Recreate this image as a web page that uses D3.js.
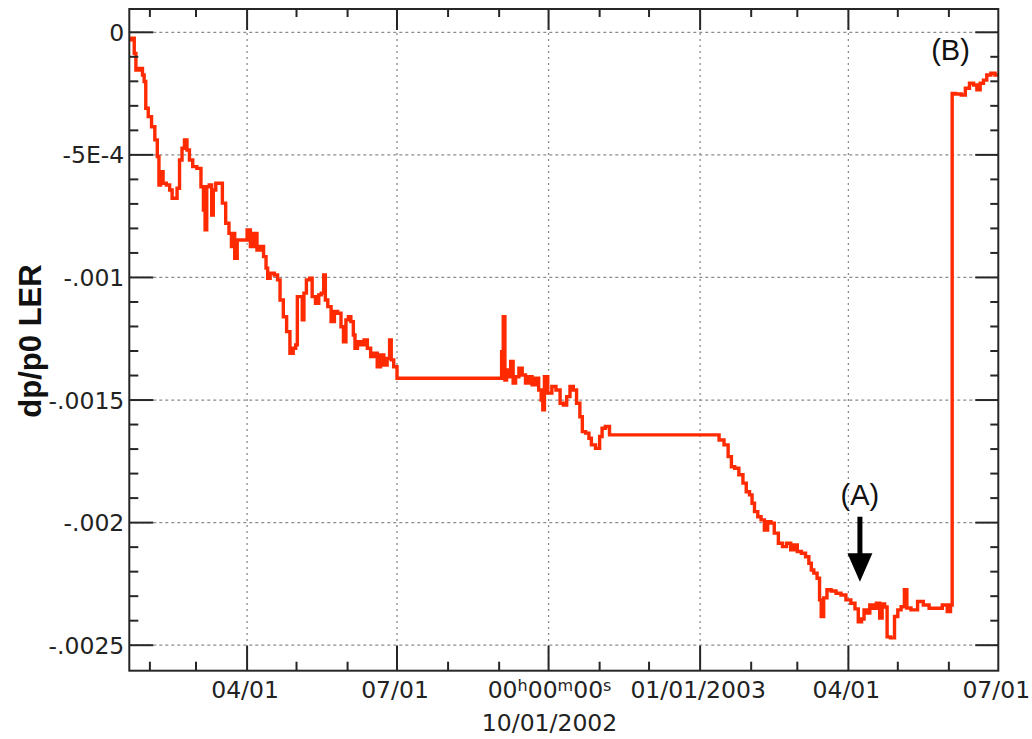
<!DOCTYPE html>
<html><head><meta charset="utf-8">
<script src="https://cdn.jsdelivr.net/npm/d3@7"></script>
<style>body{margin:0;background:#fff;} svg{display:block;}</style>
</head><body><svg id="chart" width="1032" height="739"></svg>
<script>
// ---- data ----
const dates = [
"2002-01-20","2002-01-22","2002-01-23","2002-01-24","2002-01-27","2002-01-28","2002-01-29","2002-01-30",
"2002-02-01","2002-02-03","2002-02-05","2002-02-06","2002-02-07","2002-02-08","2002-02-10","2002-02-12",
"2002-02-14","2002-02-15","2002-02-17","2002-02-18","2002-02-20","2002-02-21","2002-02-23","2002-02-24",
"2002-02-26","2002-02-28","2002-03-03","2002-03-05","2002-03-06","2002-03-07","2002-03-08","2002-03-10",
"2002-03-11","2002-03-12","2002-03-14","2002-03-16","2002-03-18","2002-03-20","2002-03-22","2002-03-23",
"2002-03-24","2002-03-25","2002-03-27","2002-03-31","2002-04-02","2002-04-04","2002-04-06","2002-04-08",
"2002-04-10","2002-04-12","2002-04-13","2002-04-14","2002-04-16","2002-04-19","2002-04-20","2002-04-22",
"2002-04-24","2002-04-26","2002-04-28","2002-04-30","2002-05-01","2002-05-02","2002-05-04","2002-05-05",
"2002-05-06","2002-05-08","2002-05-10","2002-05-11","2002-05-14","2002-05-15","2002-05-17","2002-05-18",
"2002-05-19","2002-05-21","2002-05-23","2002-05-25","2002-05-27","2002-05-29","2002-05-30","2002-06-01",
"2002-06-02","2002-06-04","2002-06-05","2002-06-06","2002-06-08","2002-06-10","2002-06-12","2002-06-14",
"2002-06-16","2002-06-18","2002-06-20","2002-06-22","2002-06-24","2002-06-26","2002-06-27","2002-06-28",
"2002-06-30","2002-07-02","2002-09-02","2002-09-03","2002-09-04","2002-09-05","2002-09-06","2002-09-07",
"2002-09-09","2002-09-10","2002-09-12","2002-09-14","2002-09-16","2002-09-18","2002-09-20","2002-09-22",
"2002-09-24","2002-09-26","2002-09-27","2002-09-28","2002-09-29","2002-10-02","2002-10-04","2002-10-07",
"2002-10-09","2002-10-11","2002-10-13","2002-10-15","2002-10-17","2002-10-19","2002-10-21","2002-10-22",
"2002-10-25","2002-10-26","2002-10-28","2002-10-31","2002-11-02","2002-11-03","2002-11-06","2002-11-08",
"2003-01-11","2003-01-14","2003-01-17","2003-01-19","2003-01-21","2003-01-23","2003-01-26","2003-01-28",
"2003-01-30","2003-02-01","2003-02-02","2003-02-04","2003-02-06","2003-02-08","2003-02-10","2003-02-12",
"2003-02-14","2003-02-16","2003-02-19","2003-02-21","2003-02-24","2003-02-26","2003-02-28","2003-03-02",
"2003-03-05","2003-03-07","2003-03-09","2003-03-10","2003-03-12","2003-03-14","2003-03-15","2003-03-16",
"2003-03-18","2003-03-20","2003-03-23","2003-03-26","2003-03-29","2003-04-01","2003-04-04","2003-04-06",
"2003-04-08","2003-04-10","2003-04-11","2003-04-13","2003-04-15","2003-04-17","2003-04-19","2003-04-21",
"2003-04-22","2003-04-24","2003-04-25","2003-04-28","2003-04-30","2003-05-02","2003-05-04","2003-05-06",
"2003-05-07","2003-05-11","2003-05-15","2003-05-18","2003-05-22","2003-05-26","2003-05-30","2003-06-01",
"2003-06-03","2003-06-03","2003-06-07","2003-06-10","2003-06-12","2003-06-15","2003-06-17","2003-06-19",
"2003-06-21","2003-06-23","2003-06-25","2003-06-28","2003-06-30"
];
const values = [
-0.31e-4,-0.24e-4,-0.86e-4,-1.54e-4,-1.47e-4,-1.74e-4,-2.01e-4,-3.10e-4,
-3.44e-4,-3.85e-4,-4.39e-4,-5.07e-4,-6.23e-4,-5.69e-4,-6.16e-4,-6.23e-4,
-6.43e-4,-6.77e-4,-6.77e-4,-6.36e-4,-5.21e-4,-4.73e-4,-4.39e-4,-4.80e-4,
-5.21e-4,-5.48e-4,-5.55e-4,-6.30e-4,-7.25e-4,-8.06e-4,-6.30e-4,-6.23e-4,
-7.45e-4,-6.43e-4,-6.16e-4,-6.16e-4,-6.97e-4,-7.79e-4,-8.20e-4,-8.74e-4,
-8.20e-4,-9.22e-4,-8.47e-4,-8.47e-4,-8.06e-4,-8.74e-4,-8.20e-4,-8.88e-4,
-8.74e-4,-9.15e-4,-9.62e-4,-10.03e-4,-9.83e-4,-9.90e-4,-10.10e-4,-10.92e-4,
-11.60e-4,-12.21e-4,-13.09e-4,-12.89e-4,-12.75e-4,-10.78e-4,-10.78e-4,-11.73e-4,
-10.64e-4,-10.10e-4,-10.03e-4,-10.78e-4,-11.05e-4,-10.71e-4,-10.64e-4,-9.90e-4,
-10.92e-4,-11.19e-4,-11.80e-4,-11.39e-4,-11.46e-4,-12.01e-4,-12.62e-4,-11.73e-4,
-11.60e-4,-11.80e-4,-12.35e-4,-12.89e-4,-12.62e-4,-12.75e-4,-12.55e-4,-12.89e-4,
-13.23e-4,-13.09e-4,-13.64e-4,-13.16e-4,-13.57e-4,-13.30e-4,-12.55e-4,-13.36e-4,
-13.64e-4,-14.11e-4,-14.11e-4,-13.03e-4,-11.60e-4,-14.18e-4,-13.77e-4,-14.05e-4,
-13.43e-4,-14.31e-4,-14.05e-4,-13.70e-4,-13.98e-4,-14.31e-4,-14.05e-4,-14.38e-4,
-14.11e-4,-14.59e-4,-15.00e-4,-15.40e-4,-14.05e-4,-14.72e-4,-14.45e-4,-14.59e-4,
-15.13e-4,-15.20e-4,-14.86e-4,-14.45e-4,-14.59e-4,-15.13e-4,-15.68e-4,-16.29e-4,
-16.35e-4,-16.56e-4,-16.83e-4,-16.97e-4,-16.49e-4,-16.15e-4,-16.08e-4,-16.42e-4,
-16.42e-4,-16.63e-4,-16.83e-4,-17.31e-4,-17.72e-4,-17.78e-4,-18.05e-4,-18.39e-4,
-18.74e-4,-18.87e-4,-19.21e-4,-19.55e-4,-19.76e-4,-19.89e-4,-20.30e-4,-19.96e-4,
-20.02e-4,-20.43e-4,-20.84e-4,-20.98e-4,-20.84e-4,-21.11e-4,-20.91e-4,-21.18e-4,
-21.25e-4,-21.39e-4,-21.66e-4,-21.93e-4,-22.06e-4,-22.27e-4,-23.15e-4,-23.83e-4,
-23.07e-4,-22.74e-4,-22.79e-4,-22.88e-4,-22.95e-4,-23.15e-4,-23.29e-4,-23.52e-4,
-24.05e-4,-23.93e-4,-23.56e-4,-23.69e-4,-23.36e-4,-23.49e-4,-23.29e-4,-23.89e-4,
-23.32e-4,-23.44e-4,-24.66e-4,-24.70e-4,-23.83e-4,-23.56e-4,-23.43e-4,-22.74e-4,
-23.48e-4,-23.56e-4,-23.22e-4,-23.36e-4,-23.49e-4,-23.49e-4,-23.36e-4,-23.63e-4,
-23.36e-4,-2.49e-4,-2.52e-4,-2.56e-4,-2.28e-4,-2.08e-4,-2.15e-4,-2.35e-4,
-2.08e-4,-1.95e-4,-1.74e-4,-1.67e-4,-1.74e-4
];
const xDomain = ["2002-01-19T12:00:00Z", "2003-07-01T00:00:00Z"];
const yDomain = [-0.002604, 0.000095];
const majorXTicks = ["2002-04-01","2002-07-01","2002-10-01","2003-01-01","2003-04-01","2003-07-01"];
const majorXLabels = ["04/01","07/01","TIME|10/01/2002","01/01/2003","04/01","07/01"];
const minorXTicks = ["2002-02-01","2002-03-01","2002-05-01","2002-06-01","2002-08-01","2002-09-01",
                     "2002-11-01","2002-12-01","2003-02-01","2003-03-01","2003-05-01","2003-06-01"];
const yTicks = [0, -0.0005, -0.001, -0.0015, -0.002, -0.0025];
const yTickLabels = ["0", "-5E-4", "-.001", "-.0015", "-.002", "-.0025"];
const yMinorTicks = d3.range(1, 25).filter(k => k % 5 !== 0).map(k => -k * 1e-4);
const yTitle = "dp/p0 LER";
const annoLabels = ["(A)", "(B)"];
const annoDates = ["2003-04-08", "2003-06-02"];
const annoValues = [-19.3e-4, -1.12e-4];
const arrowDate = "2003-04-08";
const arrowFrom = -19.76e-4, arrowTo = -22.41e-4;

// ---- layout ----
const L = 129.3, R = 998.3, T = 9, B = 670.7;
const parse = s => new Date(s.length > 10 ? s : s + "T00:00:00Z");
const x = d3.scaleUtc().domain(xDomain.map(parse)).range([L, R]);
const y = d3.scaleLinear().domain(yDomain).range([B, T]);

const svg = d3.select("#chart");
const axisColor = "#262626";
const tickFont = "'DejaVu Sans', sans-serif";

svg.append("defs").append("clipPath").attr("id", "plot")
  .append("rect").attr("x", L).attr("y", T).attr("width", R - L).attr("height", B - T);

// gridlines
const grid = svg.append("g");
grid.selectAll("line.h").data(yTicks).join("line")
  .attr("x1", L).attr("x2", R).attr("y1", d => y(d)).attr("y2", d => y(d))
  .attr("stroke", "#8c8c8c").attr("stroke-width", 1.3).attr("stroke-dasharray", "3,3");
grid.selectAll("line.v").data(majorXTicks.slice(0, 5)).join("line")
  .attr("x1", d => x(parse(d))).attr("x2", d => x(parse(d))).attr("y1", T).attr("y2", B)
  .attr("stroke", "#8c8c8c").attr("stroke-width", 1.3).attr("stroke-dasharray", "2,4");

// data line
const pts = dates.map((d, i) => [parse(d), values[i]]);
svg.append("path").datum(pts)
  .attr("clip-path", "url(#plot)")
  .attr("fill", "none").attr("stroke", "#ff2a00").attr("stroke-width", 3.4)
  .attr("stroke-linejoin", "miter").attr("stroke-linecap", "square")
  .attr("d", d3.line().curve(d3.curveStep).x(d => x(d[0])).y(d => y(d[1])));

// frame
svg.append("rect").attr("x", L).attr("y", T).attr("width", R - L).attr("height", B - T)
  .attr("fill", "none").attr("stroke", axisColor).attr("stroke-width", 2);

// ticks
const ticks = svg.append("g").attr("stroke", axisColor).attr("stroke-width", 2);
yTicks.forEach(v => {
  ticks.append("line").attr("x1", L).attr("x2", L + 24).attr("y1", y(v)).attr("y2", y(v));
  ticks.append("line").attr("x1", R - 23).attr("x2", R).attr("y1", y(v)).attr("y2", y(v));
});
yMinorTicks.forEach(v => {
  ticks.append("line").attr("x1", L).attr("x2", L + 9).attr("y1", y(v)).attr("y2", y(v));
  ticks.append("line").attr("x1", R - 8).attr("x2", R).attr("y1", y(v)).attr("y2", y(v));
});
majorXTicks.slice(0, 5).forEach(d => {
  const px = x(parse(d));
  ticks.append("line").attr("x1", px).attr("x2", px).attr("y1", B).attr("y2", B - 25);
  ticks.append("line").attr("x1", px).attr("x2", px).attr("y1", T).attr("y2", T + 21);
});
minorXTicks.forEach(d => {
  const px = x(parse(d));
  ticks.append("line").attr("x1", px).attr("x2", px).attr("y1", B).attr("y2", B - 9);
  ticks.append("line").attr("x1", px).attr("x2", px).attr("y1", T).attr("y2", T + 8);
});

// y tick labels
svg.append("g").selectAll("text").data(yTicks).join("text")
  .attr("x", L - 5).attr("y", d => y(d) + 8.5)
  .attr("text-anchor", "end").attr("font-family", tickFont).attr("font-size", 23.5)
  .attr("fill", "#222").text((d, i) => yTickLabels[i]);

// x tick labels
majorXTicks.forEach((d, i) => {
  const px = x(parse(d));
  const lab = majorXLabels[i];
  if (lab.startsWith("TIME")) {
    const t = svg.append("text").attr("x", px + 1).attr("y", 698).attr("text-anchor", "middle")
      .attr("font-family", tickFont).attr("font-size", 23.5).attr("fill", "#222");
    t.append("tspan").text("00");
    t.append("tspan").attr("font-size", 16).attr("dy", -7).text("h");
    t.append("tspan").attr("dy", 7).text("00");
    t.append("tspan").attr("font-size", 16).attr("dy", -7).text("m");
    t.append("tspan").attr("dy", 7).text("00");
    t.append("tspan").attr("font-size", 16).attr("dy", -7).text("s");
    svg.append("text").attr("x", px + 1).attr("y", 731).attr("text-anchor", "middle")
      .attr("font-family", tickFont).attr("font-size", 23.5).attr("fill", "#222")
      .text(lab.split("|")[1]);
  } else {
    svg.append("text").attr("x", px - 2).attr("y", 698).attr("text-anchor", "middle")
      .attr("font-family", tickFont).attr("font-size", 23.5).attr("fill", "#222").text(lab);
  }
});

// y title
svg.append("text").attr("transform", "translate(41,341) rotate(-90)")
  .attr("text-anchor", "middle").attr("font-family", "'Liberation Sans', Arial, sans-serif")
  .attr("font-weight", "bold").attr("font-size", 31).attr("fill", "#111").text(yTitle);

// annotations
annoLabels.forEach((lab, i) => {
  svg.append("text").attr("x", x(parse(annoDates[i]))).attr("y", y(annoValues[i]))
    .attr("text-anchor", "middle").attr("font-family", "'Liberation Sans', Arial, sans-serif")
    .attr("font-size", 29).attr("fill", "#111").text(lab);
});
const ax = x(parse(arrowDate));
const yTip = y(arrowTo), yTop = y(arrowFrom);
svg.append("line").attr("x1", ax).attr("x2", ax).attr("y1", yTop).attr("y2", yTip - 26)
  .attr("stroke", "#000").attr("stroke-width", 5);
svg.append("path")
  .attr("d", `M${ax - 12.5},${yTip - 28.5} L${ax + 12.5},${yTip - 28.5} L${ax},${yTip} Z`)
  .attr("fill", "#000");
</script></body></html>
